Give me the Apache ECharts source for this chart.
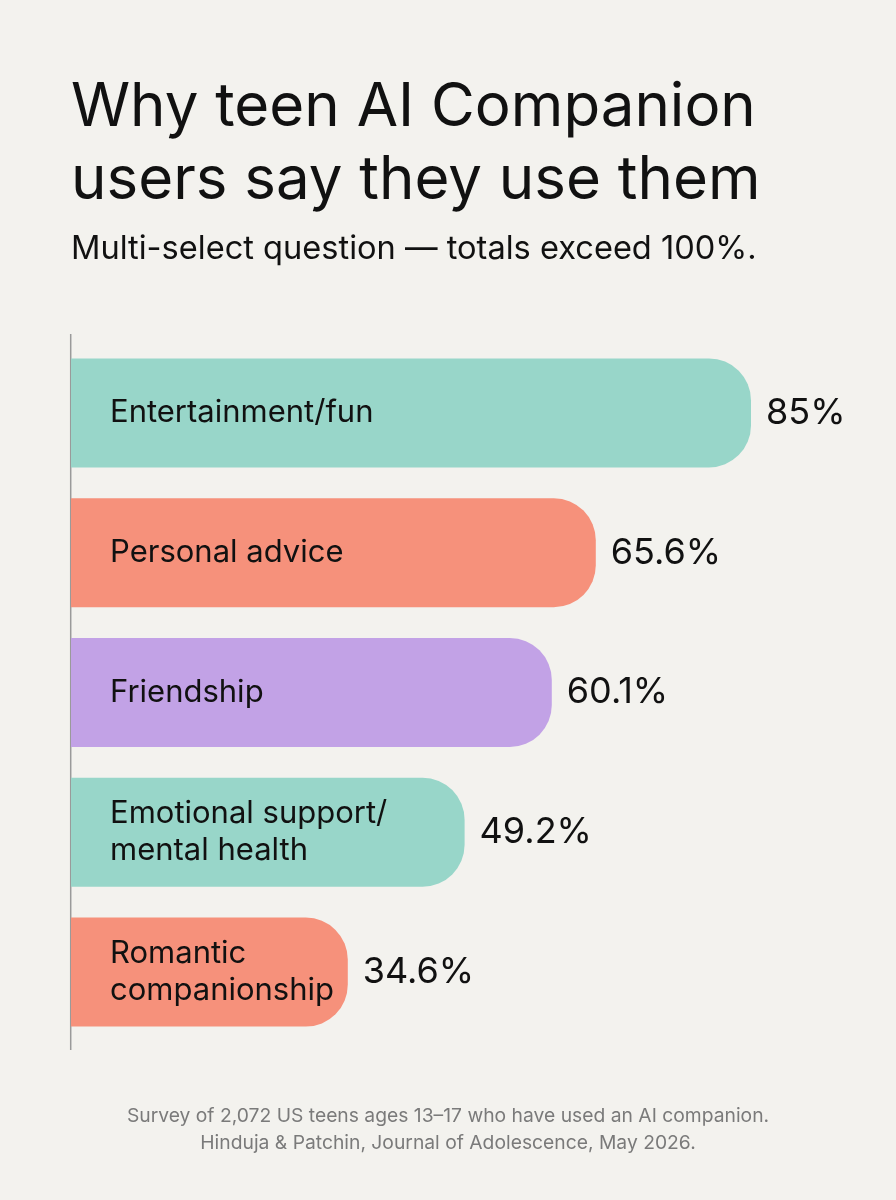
<!DOCTYPE html>
<html>
<head>
    <meta charset="utf-8">
    <script src="https://cdn.jsdelivr.net/npm/echarts@6/dist/echarts.min.js"></script>
    <style>
        html, body { margin: 0; padding: 0; background: #f3f2ee; }
        #main { width: 896px; height: 1200px; }
    </style>
</head>
<body>
    <div id="main"></div>
    <script type="text/javascript">
        // data
        var reasons = ['Entertainment/fun', 'Personal advice', 'Friendship',
                       'Emotional support/\nmental health', 'Romantic\ncompanionship'];
        var shares = [85, 65.6, 60.1, 49.2, 34.6];
        var barColors = ['#98d6c9', '#f6917b', '#c2a2e6', '#98d6c9', '#f6917b'];

        var font = 'Inter, "Noto Sans", sans-serif';
        var myChart = echarts.init(document.getElementById('main'));

        var bars = [];
        for (var i = 0; i < shares.length; i++) {
            bars.push({ value: shares[i], itemStyle: { color: barColors[i] } });
        }

        var option = {
            backgroundColor: '#f3f2ee',
            animation: false,
            title: [{
                text: 'Why teen AI Companion\nusers say they use them',
                left: 71, top: 71, padding: 0,
                textStyle: { fontFamily: font, fontSize: 60, lineHeight: 73, fontWeight: 'normal', color: '#111' }
            }, {
                text: 'Multi-select question \u2014 totals exceed 100%.',
                left: 71, top: 231, padding: 0,
                textStyle: { fontFamily: font, fontSize: 32.6, lineHeight: 36, fontWeight: 'normal', color: '#111' }
            }, {
                text: 'Survey of 2,072 US teens ages 13\u201317 who have used an AI companion.\nHinduja & Patchin, Journal of Adolescence, May 2026.',
                left: 'center', top: 1103, padding: 0,
                textStyle: { fontFamily: font, fontSize: 19.3, lineHeight: 27, fontWeight: 'normal', color: '#7a7a7a', align: 'center' }
            }],
            grid: { left: 71, right: 25, top: 343, height: 699 },
            xAxis: { type: 'value', min: 0, max: 100, show: false },
            yAxis: {
                type: 'category',
                data: reasons,
                inverse: true,
                z: 5,
                axisLine: { show: false },
                axisTick: { show: false },
                axisLabel: {
                    inside: true, margin: 39,
                    fontFamily: font, fontSize: 31, lineHeight: 37, color: '#111'
                }
            },
            graphic: [{
                type: 'line',
                shape: { x1: 70.7, y1: 334, x2: 70.7, y2: 1050 },
                style: { stroke: '#9a9a9a', lineWidth: 1.5 }
            }],
            series: [{
                type: 'bar',
                data: bars,
                barWidth: 109,
                itemStyle: { borderRadius: [0, 42, 42, 0] },
                label: {
                    show: true, position: 'right', distance: 15,
                    formatter: '{c}%',
                    fontFamily: font, fontSize: 36, color: '#111'
                }
            }]
        };
        myChart.setOption(option);
    </script>
</body>
</html>
